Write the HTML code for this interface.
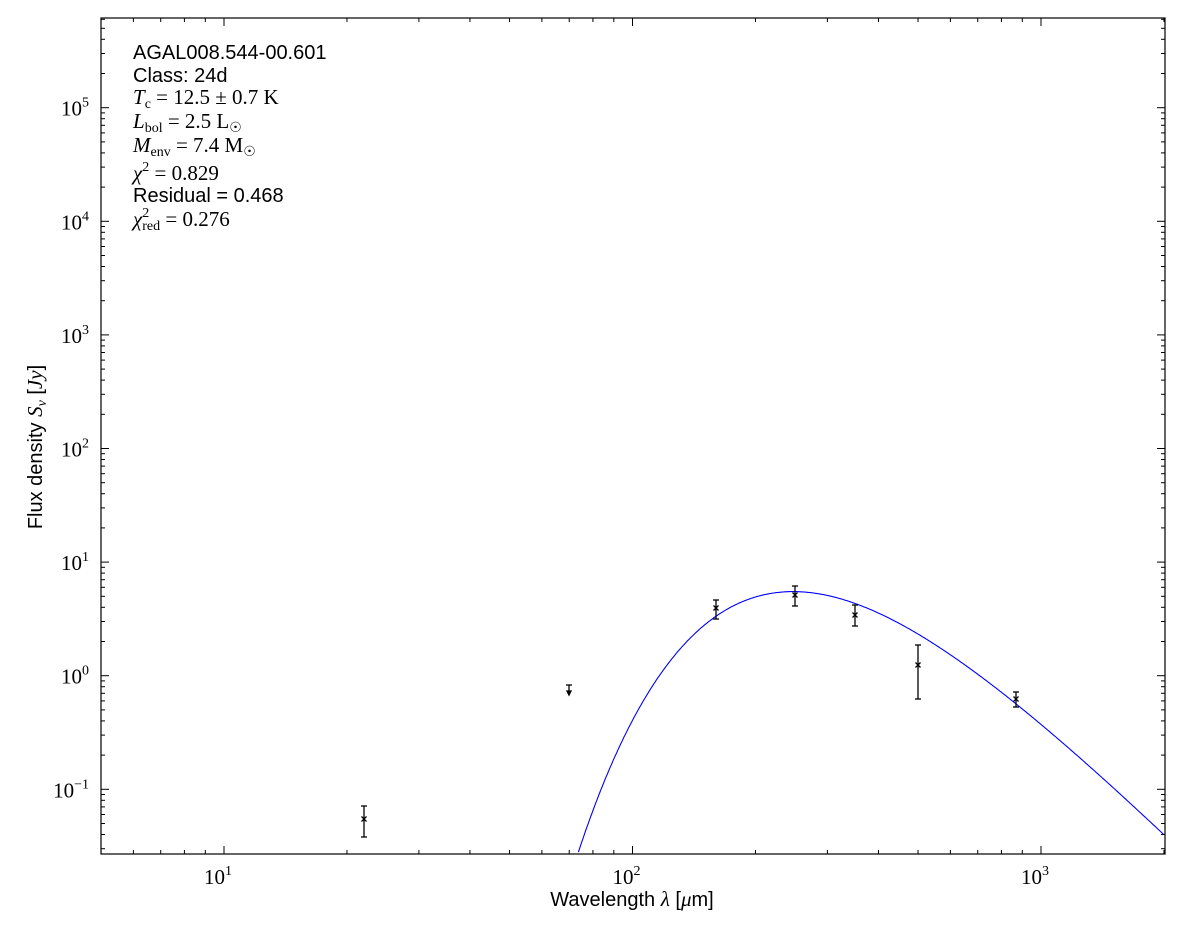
<!DOCTYPE html>
<html><head><meta charset="utf-8"><style>
body{margin:0;background:#fff;}
svg text{font-family:"Liberation Serif","DejaVu Serif",serif;}
.s{font-family:"Liberation Sans","DejaVu Sans",sans-serif !important;}
</style></head><body>
<svg id="c" width="1200" height="933" xmlns="http://www.w3.org/2000/svg">
<rect width="1200" height="933" fill="#fff"/>
<g id="ticks" stroke="#000" stroke-width="1"></g>
<g id="labels" font-size="21" fill="#000"></g>
<path id="curve" fill="none" stroke="#0000ff" stroke-width="1.1"/>
<g id="pts" stroke="#000" stroke-width="1.3" fill="none"></g>
<rect x="101" y="18" width="1064" height="836" fill="none" stroke="#000" stroke-width="1.2"/>
<g font-size="21" fill="#000">
<text class="s" x="133" y="59" font-size="20">AGAL008.544-00.601</text>
<text class="s" x="133" y="82" font-size="20">Class: 24d</text>
<text x="133" y="104"><tspan font-style="italic">T</tspan><tspan font-size="14" dy="4">c</tspan><tspan dy="-4"> = 12.5 ± 0.7 K</tspan></text>
<text x="133" y="128"><tspan font-style="italic">L</tspan><tspan font-size="14" dy="4">bol</tspan><tspan dy="-4"> = 2.5 L</tspan><tspan font-size="14" dy="4">☉</tspan></text>
<text x="133" y="152"><tspan font-style="italic">M</tspan><tspan font-size="14" dy="4">env</tspan><tspan dy="-4"> = 7.4 M</tspan><tspan font-size="14" dy="4">☉</tspan></text>
<text x="133" y="180"><tspan font-style="italic">χ</tspan><tspan font-size="14" dy="-9">2</tspan><tspan dy="9"> = 0.829</tspan></text>
<text class="s" x="133" y="202" font-size="20">Residual = 0.468</text>
<text x="133" y="226"><tspan font-style="italic">χ</tspan><tspan font-size="14" dy="-9">2</tspan><tspan font-size="14" dx="-7" dy="13">red</tspan><tspan dy="-4"> = 0.276</tspan></text>
</g>
<text class="s" x="632" y="906" font-size="20" text-anchor="middle">Wavelength <tspan font-family="Liberation Serif" font-style="italic" font-size="21">λ</tspan> [<tspan font-family="Liberation Serif" font-style="italic" font-size="21">μ</tspan>m]</text>
<text class="s" transform="translate(42,447) rotate(-90)" font-size="20" text-anchor="middle">Flux density <tspan font-family="Liberation Serif" font-style="italic" font-size="21">S<tspan font-size="14" dy="4">ν</tspan></tspan><tspan dy="-4"> [</tspan><tspan font-family="Liberation Serif" font-style="italic" font-size="21">Jy</tspan>]</text>
</svg>
<script>
var X0=101,X1=1165,Y0=18,Y1=854;
function px(l){return 224+(Math.log10(l)-1)*408.5;}
function py(v){return 789.3-(Math.log10(v)+1)*113.6;}
var t=document.getElementById('ticks'),lb=document.getElementById('labels'),s='',ls='';
function ln(a,b,c,d){s+='<line x1="'+a+'" y1="'+b+'" x2="'+c+'" y2="'+d+'"/>';}
for(var e=0;e<=3;e++)for(var m=1;m<10;m++){var v=m*Math.pow(10,e),x=px(v);if(x<X0||x>X1)continue;var L=m==1?8:4;ln(x,Y1,x,Y1-L);ln(x,Y0,x,Y0+L);if(m==1)ls+='<text x="'+(x-6)+'" y="884" text-anchor="middle">10<tspan font-size="14" dy="-9">'+e+'</tspan></text>';}
for(var e=-2;e<=5;e++)for(var m=1;m<10;m++){var v=m*Math.pow(10,e),y=py(v);if(y<Y0||y>Y1)continue;var L=m==1?8:4;ln(X0,y,X0+L,y);ln(X1,y,X1-L,y);if(m==1)ls+='<text x="89" y="'+(y+8)+'" text-anchor="end">10<tspan font-size="14" dy="-9">'+(e<0?'−'+(-e):e)+'</tspan></text>';}
t.innerHTML=s;lb.innerHTML=ls;
function f(l){var x=14388/(l*12.5);return Math.pow(x,4.7)/(Math.exp(x)-1);}
var pk=0;for(var l=100;l<500;l+=1)pk=Math.max(pk,f(l));
var d='';for(var i=0;i<=600;i++){var lg=1.8+i*(3.3-1.8)/600,l=Math.pow(10,lg),v=5.5*f(l)/pk,x=px(l),y=py(v);if(x>X1)break;if(y>Y1)continue;d+=(d?'L':'M')+x.toFixed(1)+','+y.toFixed(1);}
document.getElementById('curve').setAttribute('d',d);
var P=[[364,819,806,837],[716,608,600,619],[795,595,586,606],[855,615,605,626],[918,665,645,699],[1016,699,692,707]];
var q='';P.forEach(function(p){q+='<line x1="'+p[0]+'" y1="'+p[2]+'" x2="'+p[0]+'" y2="'+p[3]+'"/><line x1="'+(p[0]-3)+'" y1="'+p[2]+'" x2="'+(p[0]+3)+'" y2="'+p[2]+'"/><line x1="'+(p[0]-3)+'" y1="'+p[3]+'" x2="'+(p[0]+3)+'" y2="'+p[3]+'"/><path d="M'+(p[0]-2.5)+','+(p[1]-2.5)+'l5,5M'+(p[0]-2.5)+','+(p[1]+2.5)+'l5,-5"/>';});
q+='<line x1="569" y1="685" x2="569" y2="692"/><line x1="566" y1="685" x2="572" y2="685"/><path d="M567,691L571,691L569,695Z" fill="#000"/>';
document.getElementById('pts').innerHTML=q;
</script>
</body></html>
